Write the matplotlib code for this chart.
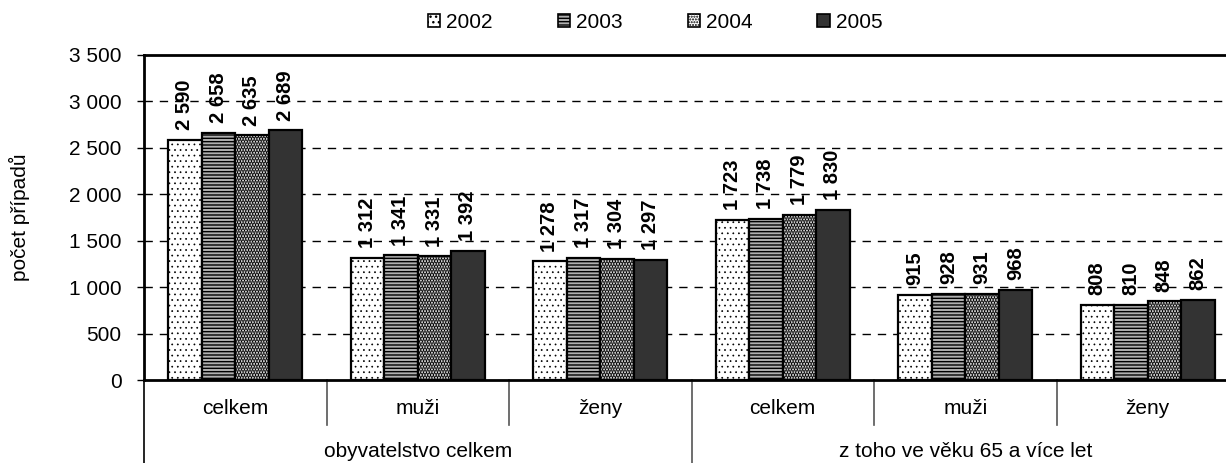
import matplotlib
matplotlib.use('Agg')
import matplotlib.pyplot as plt
from matplotlib.patches import Patch

plt.rcParams['font.family'] = ['Liberation Sans', 'DejaVu Sans']

years = ['2002', '2003', '2004', '2005']
subgroups = ['celkem', 'muži', 'ženy', 'celkem', 'muži', 'ženy']
groups = ['obyvatelstvo celkem', 'z toho ve věku 65 a více let']
v2002 = [2590, 1312, 1278, 1723, 915, 808]
v2003 = [2658, 1341, 1317, 1738, 928, 810]
v2004 = [2635, 1331, 1304, 1779, 931, 848]
v2005 = [2689, 1392, 1297, 1830, 968, 862]
series = [v2002, v2003, v2004, v2005]

faces = ['white', '#b0b0b0', 'white', '#333333']
hatches = ['...', '-----', '......', None]
hlw = [0.5, 1.0, 1.8, 1.0]
FS = 15

def fmt(v):
    return f"{v:,}".replace(",", " ")

fig = plt.figure(figsize=(12.26, 4.63), dpi=100)
ax = fig.add_axes([144/1226, 1-380/463, 1-144/1226, 325/463])

w = 0.1836
off = 0.132
for j, vals in enumerate(series):
    xs = [i + off + j*w + w/2 for i in range(len(vals))]
    with plt.rc_context({'hatch.linewidth': hlw[j]}):
        ax.bar(xs, vals, width=w, color=faces[j], hatch=hatches[j],
               edgecolor='black', linewidth=1.6, zorder=3)
    for x, v in zip(xs, vals):
        ax.annotate(fmt(v), (x, v), xytext=(0, 7), textcoords='offset points',
                    rotation=90, ha='center', va='bottom', fontsize=14.5,
                    fontweight='bold')

ax.set_ylim(0, 3500)
ax.set_xlim(0, (1226-144)/182.5)
ax.set_yticks(range(0, 3501, 500))
ax.set_yticklabels([fmt(v) for v in range(0, 3501, 500)], fontsize=FS)
ax.tick_params(axis='y', direction='out', length=5, width=1, pad=11)
ax.set_xticks([])
for y in range(500, 3500, 500):
    ax.axhline(y, color='black', linewidth=1, linestyle=(0, (6, 5)), zorder=1)

ax.spines['right'].set_visible(False)
ax.spines['top'].set_linewidth(2)
ax.spines['left'].set_linewidth(2)
ax.spines['bottom'].set_linewidth(2)
ax.set_ylabel('počet případů', fontsize=FS, labelpad=28)

tr = ax.get_xaxis_transform()
for b in range(1, 6):
    bottom = -0.255 if b == 3 else -0.138
    ax.plot([b, b], [0, bottom], transform=tr, color='#555555', linewidth=1.2,
            clip_on=False)
ax.plot([0, 0], [0, -0.255], transform=tr, color='black', linewidth=1.2, clip_on=False)
for i, s in enumerate(subgroups):
    ax.text(i + 0.5, -0.089, s, transform=tr, ha='center', va='center', fontsize=FS)
for k, g in enumerate(groups):
    ax.text(k*3 + 1.5, -0.2215, g, transform=tr, ha='center', va='center', fontsize=FS)

handles = []
for j in range(4):
    with plt.rc_context({'hatch.linewidth': hlw[j]}):
        handles.append(Patch(facecolor=faces[j], hatch=hatches[j], edgecolor='black',
                             linewidth=1.2, label=years[j]))
fig.legend(handles=handles, loc='center', bbox_to_anchor=(0.5345, 1-22/463), ncol=4,
           frameon=False, fontsize=FS, handlelength=0.6, handleheight=0.6,
           handletextpad=0.3, columnspacing=3.1)

fig.savefig('out.png', dpi=100)
